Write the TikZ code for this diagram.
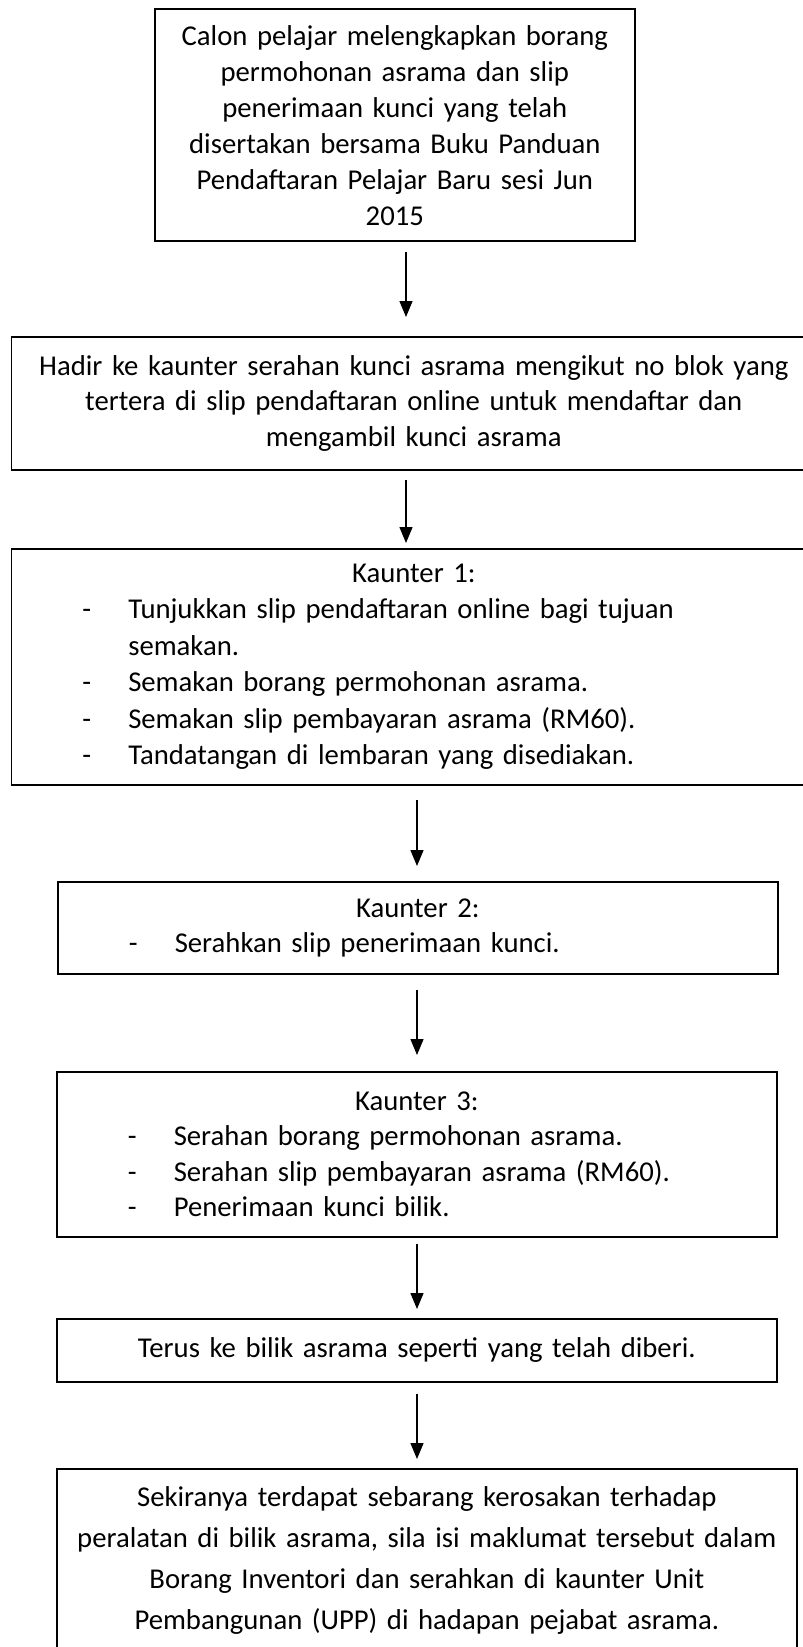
\documentclass[tikz,border=0pt]{standalone}
\usepackage{fontspec}
\setmainfont{Carlito}
\usetikzlibrary{arrows.meta}
\newcommand{\baris}[1]{\makebox[\hsize][l]{\hspace*{71pt}\makebox[46pt][l]{-}#1}}
\newcommand{\lanjut}[1]{\makebox[\hsize][l]{\hspace*{117pt}#1}}
\begin{document}
\begin{tikzpicture}[x=1pt, y=-1pt,
		kotak/.style={draw, line width=1.6pt, rectangle, inner sep=0pt, anchor=north west, align=center, font=\fontsize{28.7}{35.5}\selectfont},
		anak/.style={-{Triangle[length=16pt, width=13pt]}, line width=1.4pt}]
				\useasboundingbox (0,0) rectangle (803,1647);
				\clip (0,0) rectangle (803,1647);
				\fill[white] (0,0) rectangle (803,1647);
				\node[kotak, minimum width=480pt, minimum height=232pt, text width=480pt, font=\fontsize{28.7}{36}\selectfont] (b1) at (154,8.4)
					{Calon pelajar melengkapkan borang\\permohonan asrama dan slip\\penerimaan kunci yang telah\\disertakan bersama Buku Panduan\\Pendaftaran Pelajar Baru sesi Jun\\2015};
				\node[kotak, minimum width=805pt, minimum height=133pt, text width=805pt] (b2) at (10.5,336)
					{Hadir ke kaunter serahan kunci asrama mengikut no blok yang\\tertera di slip pendaftaran online untuk mendaftar dan\\mengambil kunci asrama};
				\node[kotak, minimum width=805pt, minimum height=236pt, text width=805pt, font=\fontsize{28.7}{36.4}\selectfont] (b3) at (10.5,548)
					{Kaunter 1:\\\baris{Tunjukkan slip pendaftaran online bagi tujuan}\\\lanjut{semakan.}\\\baris{Semakan borang permohonan asrama.}\\\baris{Semakan slip pembayaran asrama (RM60).}\\\baris{Tandatangan di lembaran yang disediakan.}};
				\node[kotak, minimum width=720pt, minimum height=92pt, text width=720pt] (b4) at (57,881)
					{Kaunter 2:\\\baris{Serahkan slip penerimaan kunci.}};
				\node[kotak, minimum width=720pt, minimum height=165pt, text width=720pt] (b5) at (56,1071)
					{Kaunter 3:\\\baris{Serahan borang permohonan asrama.}\\\baris{Serahan slip pembayaran asrama (RM60).}\\\baris{Penerimaan kunci bilik.}};
				\node[kotak, minimum width=720pt, minimum height=63pt, text width=720pt] (b6) at (56,1318)
					{Terus ke bilik asrama seperti yang telah diberi.};
				\node[kotak, minimum width=740pt, minimum height=184pt, text width=740pt, font=\fontsize{28.7}{41}\selectfont] (b7) at (56,1468)
					{Sekiranya terdapat sebarang kerosakan terhadap\\peralatan di bilik asrama, sila isi maklumat tersebut dalam\\Borang Inventori dan serahkan di kaunter Unit\\Pembangunan (UPP) di hadapan pejabat asrama.};
				\coordinate (x1) at (406,0);
				\coordinate (x2) at (417,0);
				\draw[anak, shorten <=10pt, shorten >=19pt] (b1.south -| x1) -- (b2.north -| x1);
				\draw[anak, shorten <=9pt, shorten >=5pt] (b2.south -| x1) -- (b3.north -| x1);
				\draw[anak, shorten <=14pt, shorten >=15pt] (b3.south -| x2) -- (b4.north -| x2);
				\draw[anak, shorten <=15pt, shorten >=16pt] (b4.south -| x2) -- (b5.north -| x2);
				\draw[anak, shorten <=6pt, shorten >=9pt] (b5.south -| x2) -- (b6.north -| x2);
				\draw[anak, shorten <=11pt, shorten >=9pt] (b6.south -| x2) -- (b7.north -| x2);
				\end{tikzpicture}
\end{document}
